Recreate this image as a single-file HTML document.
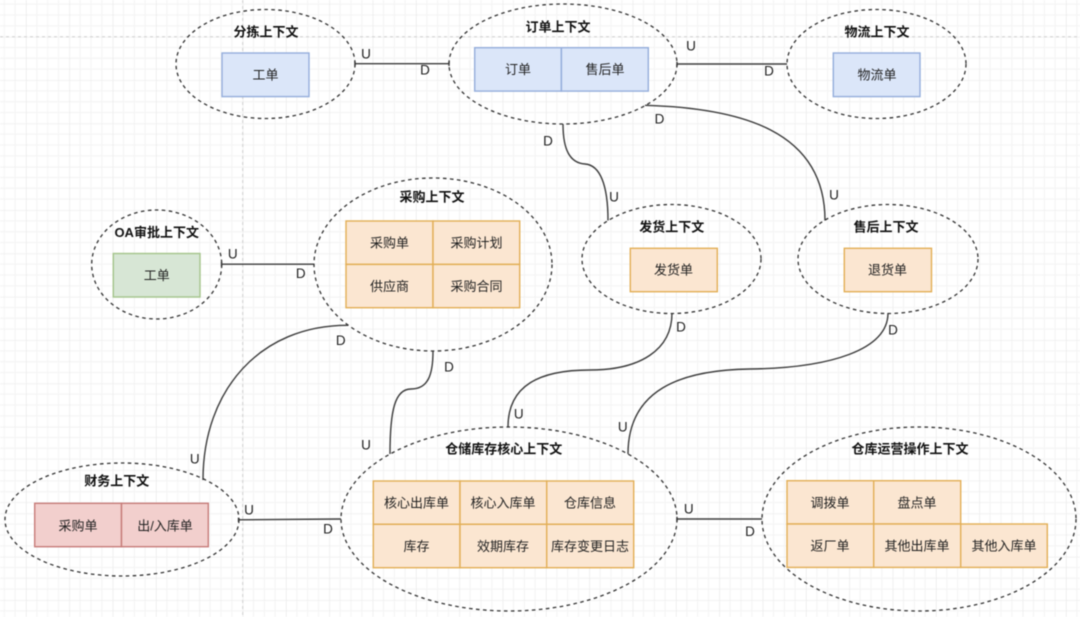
<!DOCTYPE html>
<html><head><meta charset="utf-8"><style>
html,body{margin:0;padding:0;background:#fff;width:1080px;height:617px;overflow:hidden}
svg{display:block;position:absolute;left:0;top:0;filter:blur(0.45px)}
text{font-family:"Liberation Sans","Noto Sans CJK SC",sans-serif;text-anchor:middle;dominant-baseline:central;fill:#2a2a2a}
.t{font-size:13px;font-weight:bold;fill:#111}
.b{font-size:13px;fill:#222}
.l{font-size:13.5px;fill:#222}
.e{fill:none;stroke:#333;stroke-width:1.3;stroke-dasharray:3.6 3.4}
.c{fill:none;stroke:#3c3c3c;stroke-width:1.4}
.bl{fill:#dbe6f9;stroke:#94addb;stroke-width:1.4}
.or{fill:#fbe6d1;stroke:#e2ae55;stroke-width:1.4}
.gr{fill:#d7e6d5;stroke:#a3c48a;stroke-width:1.4}
.rd{fill:#f2cfcd;stroke:#c67b78;stroke-width:1.4}
</style></head><body>
<svg width="1080" height="617" viewBox="0 0 1080 617" xmlns="http://www.w3.org/2000/svg">
<defs>
<pattern id="g" width="43.333" height="43.333" patternUnits="userSpaceOnUse" patternTransform="translate(26 36.67)">
<path d="M10.833 0V43.333M21.667 0V43.333M32.5 0V43.333M0 10.833H43.333M0 21.667H43.333M0 32.5H43.333" stroke="#f5f5f5" stroke-width="1.2" fill="none"/>
<path d="M0 0V43.333" stroke="#e6e6e6" stroke-width="1.2" fill="none"/>
<path d="M0 0H43.333" stroke="#eeeeee" stroke-width="1.6" fill="none"/>
</pattern>
</defs>
<rect width="1080" height="617" fill="#fff"/>
<rect width="1080" height="617" fill="url(#g)"/>
<path d="M0 36.7H1080M242.7 0V617" stroke="#cfcfcf" stroke-width="1" stroke-dasharray="3 3" fill="none"/>

<!-- connectors -->
<path class="c" d="M355 63.7H449M355 61.5V66M449 61.5V66"/>
<path class="c" d="M677 64H787M677 61.8V66.2"/>
<path class="c" d="M221.5 264.2H314M221.5 262V266.5"/>
<path class="c" d="M238.5 519.8L341 519M238.5 517.6V522"/>
<path class="c" d="M677 519H762M677 516.8V521.2"/>
<path class="c" d="M563 124C563 150 570 163 585 164C600 165 608 185 608 220.5"/>
<path class="c" d="M645 105.3C740 108 825 130 825 220.5"/>
<path class="c" d="M672 313C672 350 640 370 590 370C540 370 508 385 508 427"/>
<path class="c" d="M888 313C888 350 830 368 750 369C680 370 628 390 628 454"/>
<path class="c" d="M348 325.3C260 325 203 390 203 480"/>
<path class="c" d="M433 351C433 375 428 389 411 389C395 389 390 410 390 454"/>

<!-- ellipses -->
<ellipse class="e" cx="265.5" cy="64" rx="89.5" ry="54.5"/>
<ellipse class="e" cx="563" cy="64" rx="114" ry="60"/>
<ellipse class="e" cx="876.5" cy="64" rx="89.5" ry="54.5"/>
<ellipse class="e" cx="156.7" cy="264.5" rx="65" ry="54.5"/>
<ellipse class="e" cx="433" cy="264.5" rx="119" ry="86.5"/>
<ellipse class="e" cx="671.5" cy="259" rx="89.5" ry="54.5"/>
<ellipse class="e" cx="888" cy="259" rx="90" ry="54.5"/>
<ellipse class="e" cx="122" cy="519.5" rx="117" ry="56.5"/>
<ellipse class="e" cx="509" cy="519" rx="168" ry="92"/>
<ellipse class="e" cx="919" cy="519" rx="157" ry="92"/>

<!-- rects -->
<rect class="bl" x="222" y="53" width="87" height="43.6"/>
<rect class="bl" x="474.7" y="47.7" width="86.7" height="43.4"/>
<rect class="bl" x="561.4" y="47.7" width="86.9" height="43.4"/>
<rect class="bl" x="833.3" y="53" width="86.7" height="43.6"/>
<rect class="gr" x="113.3" y="253.5" width="86.7" height="43.5"/>
<rect class="or" x="346" y="221" width="87" height="43.4"/>
<rect class="or" x="433" y="221" width="86.7" height="43.4"/>
<rect class="or" x="346" y="264.4" width="87" height="43.3"/>
<rect class="or" x="433" y="264.4" width="86.7" height="43.3"/>
<rect class="or" x="630.3" y="248.3" width="87" height="43.4"/>
<rect class="or" x="844.3" y="248.3" width="87.2" height="43.4"/>
<rect class="rd" x="34.7" y="503.3" width="86.8" height="43.4"/>
<rect class="rd" x="121.5" y="503.3" width="86.8" height="43.4"/>
<rect class="or" x="373.3" y="481" width="86.7" height="43.3"/>
<rect class="or" x="460" y="481" width="86.7" height="43.3"/>
<rect class="or" x="546.7" y="481" width="87" height="43.3"/>
<rect class="or" x="373.3" y="524.3" width="86.7" height="43.4"/>
<rect class="or" x="460" y="524.3" width="86.7" height="43.4"/>
<rect class="or" x="546.7" y="524.3" width="87" height="43.4"/>
<rect class="or" x="787" y="480.7" width="86.7" height="43.3"/>
<rect class="or" x="873.7" y="480.7" width="87" height="43.3"/>
<rect class="or" x="787" y="524" width="86.7" height="43.4"/>
<rect class="or" x="873.7" y="524" width="87" height="43.4"/>
<rect class="or" x="960.7" y="524" width="86.6" height="43.4"/>

<!-- titles -->
<text class="t" x="266" y="32">分拣上下文</text>
<text class="t" x="558" y="27">订单上下文</text>
<text class="t" x="877" y="32">物流上下文</text>
<text class="t" x="156.7" y="232.3">OA审批上下文</text>
<text class="t" x="432" y="197">采购上下文</text>
<text class="t" x="671.7" y="227">发货上下文</text>
<text class="t" x="886" y="227">售后上下文</text>
<text class="t" x="116.7" y="481">财务上下文</text>
<text class="t" x="503.7" y="449">仓储库存核心上下文</text>
<text class="t" x="910" y="449">仓库运营操作上下文</text>

<!-- body -->
<text class="b" x="265.5" y="75">工单</text>
<text class="b" x="518" y="69.5">订单</text>
<text class="b" x="605" y="69.5">售后单</text>
<text class="b" x="877" y="75">物流单</text>
<text class="b" x="156.7" y="275.5">工单</text>
<text class="b" x="389.5" y="243">采购单</text>
<text class="b" x="476.5" y="243">采购计划</text>
<text class="b" x="389.5" y="286.5">供应商</text>
<text class="b" x="476.5" y="286.5">采购合同</text>
<text class="b" x="673.5" y="270">发货单</text>
<text class="b" x="887.5" y="270">退货单</text>
<text class="b" x="78" y="526">采购单</text>
<text class="b" x="165" y="526">出/入库单</text>
<text class="b" x="416.5" y="503">核心出库单</text>
<text class="b" x="503" y="503">核心入库单</text>
<text class="b" x="590" y="503">仓库信息</text>
<text class="b" x="416.5" y="546.5">库存</text>
<text class="b" x="503" y="546.5">效期库存</text>
<text class="b" x="590" y="546.5">库存变更日志</text>
<text class="b" x="830" y="503">调拨单</text>
<text class="b" x="917" y="503">盘点单</text>
<text class="b" x="830" y="546">返厂单</text>
<text class="b" x="917" y="546">其他出库单</text>
<text class="b" x="1004" y="546">其他入库单</text>

<!-- U / D -->
<text class="l" x="366" y="54">U</text><text class="l" x="425" y="70">D</text>
<text class="l" x="548" y="141">D</text>
<text class="l" x="691" y="46">U</text><text class="l" x="769" y="71">D</text>
<text class="l" x="659.5" y="119">D</text><text class="l" x="834" y="195">U</text>
<text class="l" x="614" y="197">U</text>
<text class="l" x="681" y="327">D</text><text class="l" x="893" y="330">D</text>
<text class="l" x="622.7" y="427">U</text><text class="l" x="518.7" y="414">U</text>
<text class="l" x="366" y="445">U</text><text class="l" x="449" y="367">D</text>
<text class="l" x="688.7" y="509">U</text><text class="l" x="750" y="531.7">D</text>
<text class="l" x="232.7" y="254">U</text><text class="l" x="300.7" y="273.7">D</text>
<text class="l" x="340.7" y="340.7">D</text><text class="l" x="194.7" y="459">U</text>
<text class="l" x="249" y="510">U</text><text class="l" x="328" y="529">D</text>
</svg>
</body></html>
